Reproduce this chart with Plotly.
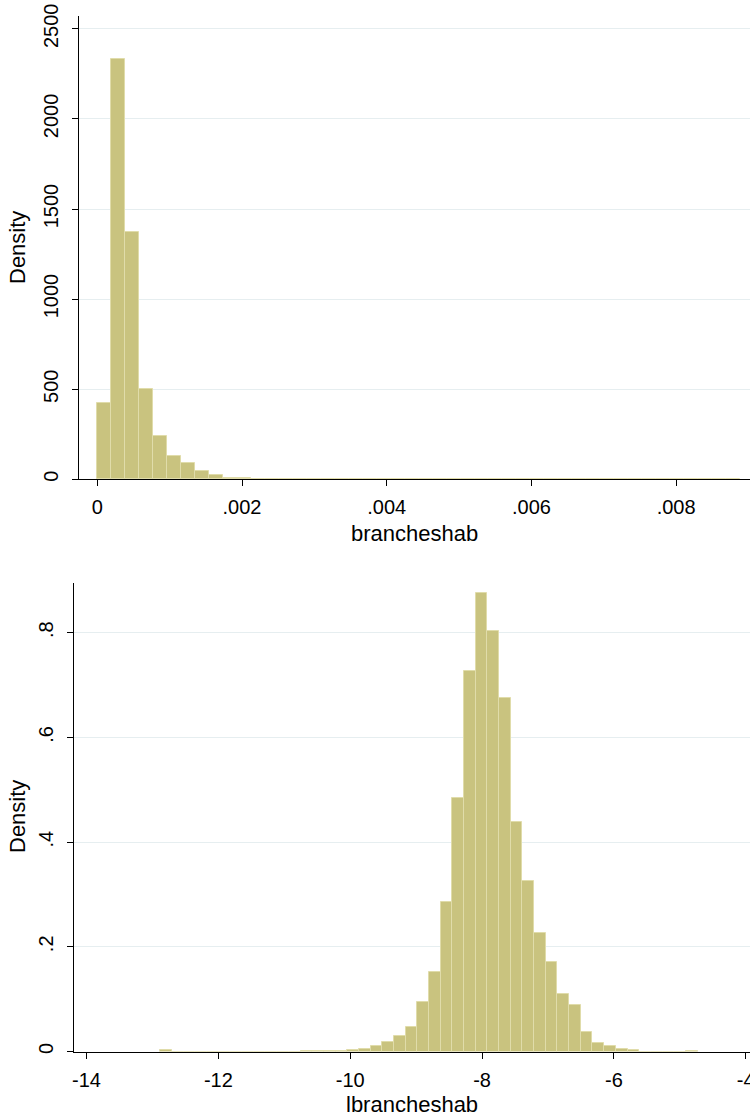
import plotly.graph_objects as go

# ---------------- data ----------------
# Top histogram: brancheshab (46 bins)
top_lo = 0.0000025
top_hi = 0.00888
top_density = [422, 2331, 1371, 500, 239, 129, 88, 46, 22, 10,
               6, 4, 3, 2, 2, 1.5, 1.5, 1,
               0, 0, 0, 0, 0, 0, 0, 0, 0, 0,
               0, 0, 0, 0, 0, 0, 0, 0, 0, 0,
               0, 0, 0, 0, 0, 0, 0,
               3]
top_xticks = [0, 0.002, 0.004, 0.006, 0.008]
top_xticktext = ["0", ".002", ".004", ".006", ".008"]
top_yticks = [0, 500, 1000, 1500, 2000, 2500]
top_yticktext = ["0", "500", "1000", "1500", "2000", "2500"]

# Bottom histogram: lbrancheshab (46 bins)
bot_lo = -12.88
bot_hi = -4.73
bot_density = [0.002,
               0, 0, 0, 0, 0, 0, 0, 0, 0, 0, 0,
               0.0015, 0.0015, 0.0015, 0.0015,
               0.002, 0.005, 0.0096, 0.019, 0.029, 0.047, 0.094, 0.152, 0.286,
               0.484, 0.727, 0.875, 0.804, 0.675, 0.438,
               0.326, 0.226, 0.1715, 0.109, 0.0885, 0.037, 0.0166, 0.0096, 0.005, 0.002,
               0, 0, 0, 0,
               0.001]
bot_xticks = [-14, -12, -10, -8, -6, -4]
bot_xticktext = ["-14", "-12", "-10", "-8", "-6", "-4"]
bot_yticks = [0, 0.2, 0.4, 0.6, 0.8]
bot_yticktext = ["0", ".2", ".4", ".6", ".8"]

x_titles = ["brancheshab", "lbrancheshab"]
y_title = "Density"

# ---------------- build ----------------
def bins(lo, hi, n):
    w = (hi - lo) / n
    centers = [lo + (i + 0.5) * w for i in range(n)]
    return centers, w

FILL = "#c9c37f"
EDGE = "#e0dcaa"
FONT = "Liberation Sans, Arial, Helvetica, sans-serif"
W, H = 750, 1120

fig = go.Figure()
tc, tw = bins(top_lo, top_hi, len(top_density))
fig.add_trace(go.Bar(x=tc, y=top_density, width=[tw] * len(tc),
                     marker=dict(color=FILL, line=dict(color=EDGE, width=1)),
                     xaxis="x", yaxis="y", showlegend=False, hoverinfo="skip"))
bc, bw = bins(bot_lo, bot_hi, len(bot_density))
fig.add_trace(go.Bar(x=bc, y=bot_density, width=[bw] * len(bc),
                     marker=dict(color=FILL, line=dict(color=EDGE, width=1)),
                     xaxis="x2", yaxis="y2", showlegend=False, hoverinfo="skip"))

def py(px):
    return (H - px) / H

axis_common = dict(showline=True, linecolor="black", linewidth=1, ticks="outside",
                   ticklen=6, tickwidth=1, tickcolor="black", zeroline=False,
                   automargin=False, ticklabeloverflow="allow",
                   tickfont=dict(family=FONT, size=20, color="black"))

fig.update_layout(
    width=W, height=H, margin=dict(l=0, r=0, t=0, b=0, autoexpand=False),
    paper_bgcolor="white", plot_bgcolor="white", bargap=0,
    xaxis=dict(domain=[79 / W, 1], range=[-0.000253, 0.009021], anchor="y",
               tickvals=top_xticks, ticktext=top_xticktext, showgrid=False,
               ticklabelstandoff=4, **axis_common),
    yaxis=dict(domain=[py(479.3), py(16)], range=[0, 2571], anchor="x",
               tickvals=top_yticks, ticktext=top_yticktext, tickangle=-90,
               showgrid=True, gridcolor="#e6eef0", gridwidth=1,
               ticklabelstandoff=6, **axis_common),
    xaxis2=dict(domain=[74 / W, 1], range=[-14.19, -3.935], anchor="y2",
                tickvals=bot_xticks, ticktext=bot_xticktext, showgrid=False,
                ticklabelstandoff=4, **axis_common),
    yaxis2=dict(domain=[py(1051.5), py(583)], range=[0, 0.895], anchor="x2",
                tickvals=bot_yticks, ticktext=bot_yticktext, tickangle=-90,
                showgrid=True, gridcolor="#e6eef0", gridwidth=1,
                ticklabelstandoff=6, **axis_common),
)

title_font = dict(family=FONT, size=22, color="black")
fig.add_annotation(text=x_titles[0], x=(79 + W) / 2 / W, y=py(533), xref="paper", yref="paper",
                   showarrow=False, xanchor="center", yanchor="middle", font=title_font)
fig.add_annotation(text=x_titles[1], x=(74 + W) / 2 / W, y=py(1104), xref="paper", yref="paper",
                   showarrow=False, xanchor="center", yanchor="middle", font=title_font)
fig.add_annotation(text=y_title, x=17 / W, y=py(248), xref="paper", yref="paper", textangle=-90,
                   showarrow=False, xanchor="center", yanchor="middle", font=title_font)
fig.add_annotation(text=y_title, x=17 / W, y=py(817), xref="paper", yref="paper", textangle=-90,
                   showarrow=False, xanchor="center", yanchor="middle", font=title_font)

fig.write_html("out.html", config={"displayModeBar": False},
               post_script="document.body.style.margin='0';document.body.style.overflow='hidden';")
